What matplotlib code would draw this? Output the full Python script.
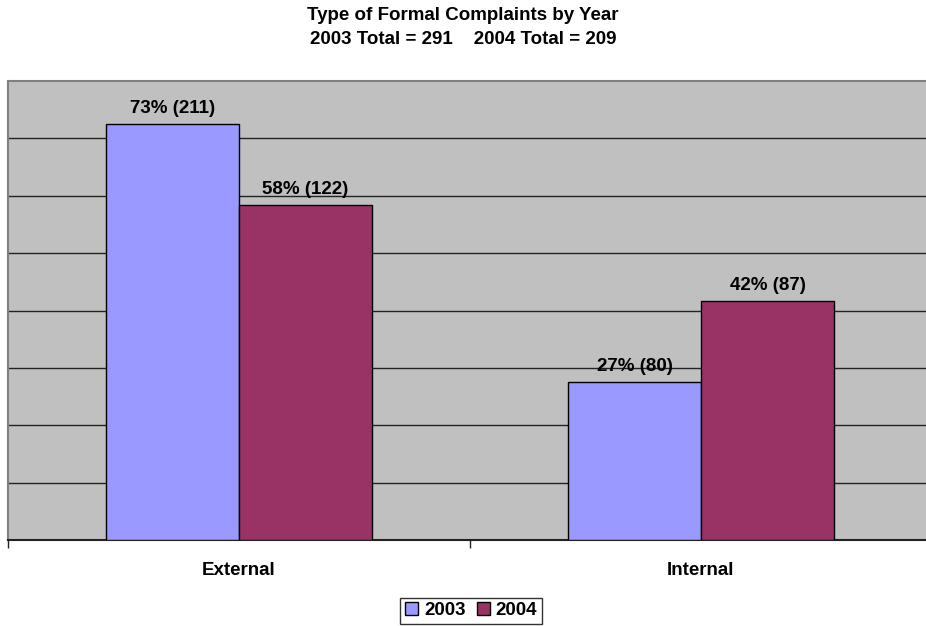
import numpy as np
import matplotlib.pyplot as plt

plt.rcParams['font.family'] = ['Liberation Sans', 'DejaVu Sans']

# Complaint counts by type and year
categories = ['External', 'Internal']
years = ['2003', '2004']
counts_2003 = [211, 80]
counts_2004 = [122, 87]
total_2003 = sum(counts_2003)
total_2004 = sum(counts_2004)
share_2003 = [c / total_2003 for c in counts_2003]
share_2004 = [c / total_2004 for c in counts_2004]

colors = ['#9999FF', '#993366']
fs = 13.5

fig = plt.figure(figsize=(9.26, 6.26), dpi=100)
ax = fig.add_axes([8 / 926, 86 / 626, 924 / 926, 459 / 626])
ax.set_facecolor('#C0C0C0')

x = np.arange(len(categories))
w = 0.288
series = [(share_2003, counts_2003), (share_2004, counts_2004)]
for k, (shares, counts) in enumerate(series):
    pos = x + (k - 0.5) * w
    ax.bar(pos, shares, width=w, color=colors[k], edgecolor='black',
           linewidth=1, label=years[k], zorder=3)
    for px, s, c in zip(pos, shares, counts):
        ax.annotate(f'{round(s * 100)}% ({c})', (px, s), xytext=(0, 5),
                    textcoords='offset points', ha='center', va='bottom',
                    fontsize=fs, fontweight='bold', zorder=4)

ax.set_xlim(-0.5, 1.5)
ax.set_ylim(0, 0.8)
ax.set_yticks(np.arange(0.1, 0.8, 0.1))
ax.yaxis.grid(True, color='#222222', linewidth=1)
ax.set_axisbelow(True)
ax.tick_params(axis='y', length=0, labelleft=False)

# category boundaries get tick marks, names sit at the centres
ax.set_xticks([-0.5, 0.5, 1.5])
ax.set_xticklabels([])
ax.tick_params(axis='x', which='major', length=6, width=1, color='#222222')
ax.set_xticks(x, minor=True)
ax.set_xticklabels(categories, minor=True, fontsize=fs, fontweight='bold')
ax.tick_params(axis='x', which='minor', length=0, pad=16)

for side in ['top', 'left', 'right']:
    ax.spines[side].set_color('#808080')
    ax.spines[side].set_linewidth(1.5)
ax.spines['bottom'].set_color('#222222')
ax.spines['bottom'].set_linewidth(1.5)

fig.text(0.5, 1 - 16 / 626, 'Type of Formal Complaints by Year',
         ha='center', va='center', fontsize=fs, fontweight='bold')
fig.text(0.5, 1 - 39 / 626,
         f'2003 Total = {total_2003}    2004 Total = {total_2004}',
         ha='center', va='center', fontsize=fs, fontweight='bold')

leg = fig.legend(loc='lower center', bbox_to_anchor=(471 / 926, 2 / 626), ncol=2,
                 frameon=True, fancybox=False, handlelength=0.7,
                 handleheight=0.7, handletextpad=0.3, columnspacing=0.6,
                 borderpad=0.25, borderaxespad=0,
                 prop={'size': fs, 'weight': 'bold'})
leg.get_frame().set_edgecolor('black')
leg.get_frame().set_linewidth(1)

fig.savefig('out.png', dpi=100)
